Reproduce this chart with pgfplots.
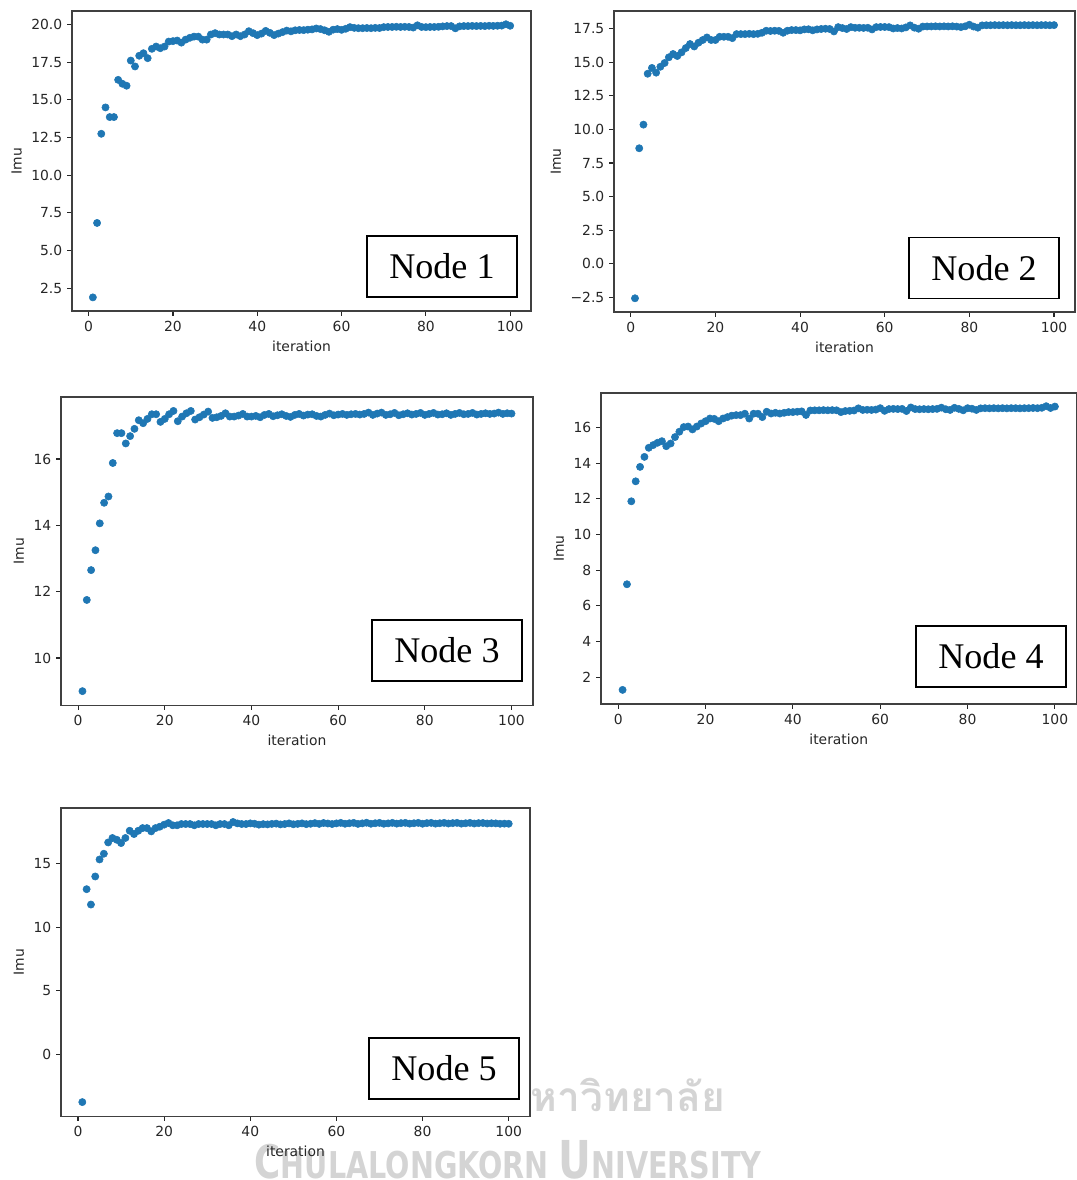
\documentclass[border=0pt]{standalone}
\usepackage{fontspec}
\setmainfont{DejaVu Sans}
\newfontfamily\timesf{Liberation Serif}
\newfontfamily\thaif[Script=Thai]{Loma}
\usepackage{pgfplots}
\usepackage{pgfplotstable}
\pgfplotsset{compat=1.18}
\definecolor{mplblue}{HTML}{1F77B4}
\definecolor{wm}{HTML}{D4D4D4}

\pgfplotstableread{
it n1 n2 n3 n4 n5
1 1.89 -2.57 9.00 1.29 -3.76
2 6.83 8.60 11.75 7.21 13.00
3 12.75 10.36 12.65 11.86 11.79
4 14.50 14.15 13.25 12.98 14.00
5 13.86 14.58 14.06 13.79 15.34
6 13.86 14.23 14.68 14.35 15.79
7 16.33 14.67 14.87 14.86 16.68
8 16.07 14.95 15.88 15.01 17.03
9 15.94 15.37 16.78 15.14 16.89
10 17.61 15.62 16.78 15.23 16.63
11 17.22 15.47 16.47 14.95 17.03
12 17.93 15.74 16.69 15.10 17.60
13 18.10 16.06 16.91 15.46 17.34
14 17.77 16.36 17.17 15.76 17.60
15 18.39 16.18 17.08 16.02 17.81
16 18.54 16.46 17.21 16.05 17.81
17 18.43 16.66 17.35 15.89 17.55
18 18.54 16.85 17.35 16.05 17.81
19 18.87 16.66 17.12 16.22 17.92
20 18.90 16.66 17.21 16.35 18.08
21 18.94 16.90 17.35 16.50 18.21
22 18.80 16.90 17.45 16.48 18.03
23 19.00 16.90 17.14 16.35 18.03
24 19.12 16.80 17.28 16.50 18.13
25 19.20 17.10 17.38 16.58 18.13
26 19.20 17.10 17.45 16.66 18.13
27 19.00 17.10 17.19 16.69 18.03
28 19.00 17.12 17.26 16.69 18.13
29 19.34 17.10 17.34 16.77 18.13
30 19.43 17.12 17.43 16.50 18.13
31 19.34 17.20 17.24 16.77 18.13
32 19.34 17.35 17.26 16.77 18.03
33 19.34 17.33 17.30 16.58 18.13
34 19.23 17.35 17.38 16.88 18.13
35 19.34 17.34 17.28 16.78 18.03
36 19.23 17.20 17.28 16.82 18.29
37 19.34 17.35 17.31 16.78 18.18
38 19.56 17.40 17.36 16.82 18.13
39 19.43 17.40 17.28 16.86 18.13
40 19.30 17.38 17.28 16.86 18.18
41 19.40 17.45 17.30 16.88 18.15
42 19.58 17.46 17.26 16.90 18.08
43 19.45 17.38 17.33 16.70 18.12
44 19.30 17.45 17.36 16.95 18.10
45 19.40 17.48 17.29 16.96 18.14
46 19.50 17.50 17.32 16.96 18.16
47 19.60 17.48 17.35 16.97 18.10
48 19.55 17.30 17.30 16.96 18.13
49 19.62 17.62 17.27 16.97 18.18
50 19.64 17.55 17.33 16.96 18.11
51 19.63 17.48 17.36 16.86 18.14
52 19.66 17.62 17.31 16.92 18.18
53 19.68 17.57 17.34 16.93 18.12
54 19.74 17.57 17.35 16.95 18.15
55 19.70 17.56 17.30 17.07 18.20
56 19.62 17.57 17.28 16.98 18.14
57 19.52 17.45 17.33 16.99 18.21
58 19.66 17.62 17.37 16.98 18.17
59 19.70 17.63 17.32 17.00 18.13
60 19.65 17.63 17.34 17.08 18.18
61 19.72 17.62 17.36 16.93 18.22
62 19.83 17.52 17.33 17.03 18.15
63 19.78 17.55 17.35 17.04 18.19
64 19.76 17.52 17.36 17.03 18.22
65 19.76 17.60 17.34 17.04 18.14
66 19.77 17.75 17.36 16.92 18.18
67 19.76 17.58 17.40 17.12 18.23
68 19.78 17.50 17.33 17.03 18.15
69 19.77 17.66 17.37 17.02 18.19
70 19.83 17.67 17.40 17.03 18.22
71 19.84 17.67 17.33 17.02 18.15
72 19.84 17.68 17.35 17.03 18.18
73 19.85 17.67 17.39 17.04 18.22
74 19.84 17.68 17.32 17.11 18.16
75 19.85 17.67 17.35 17.02 18.20
76 19.84 17.68 17.38 16.98 18.22
77 19.80 17.66 17.34 17.10 18.16
78 19.95 17.62 17.36 17.04 18.19
79 19.84 17.68 17.39 16.96 18.22
80 19.83 17.80 17.33 17.08 18.15
81 19.84 17.66 17.36 17.05 18.20
82 19.84 17.58 17.39 16.98 18.22
83 19.85 17.75 17.34 17.07 18.16
84 19.88 17.76 17.35 17.08 18.19
85 19.90 17.76 17.38 17.07 18.22
86 19.90 17.77 17.33 17.08 18.17
87 19.75 17.76 17.36 17.07 18.20
88 19.88 17.77 17.39 17.08 18.22
89 19.90 17.76 17.35 17.07 18.16
90 19.90 17.77 17.36 17.08 18.19
91 19.91 17.76 17.39 17.08 18.22
92 19.90 17.76 17.34 17.07 18.17
93 19.91 17.77 17.36 17.08 18.20
94 19.90 17.76 17.38 17.08 18.21
95 19.92 17.77 17.36 17.09 18.17
96 19.91 17.76 17.37 17.08 18.19
97 19.92 17.77 17.40 17.10 18.18
98 19.93 17.77 17.36 17.19 18.15
99 20.02 17.76 17.38 17.09 18.16
100 19.92 17.77 17.37 17.17 18.15
}\data

\pgfplotsset{
  panel/.style={
    scale only axis,
    anchor=north west,
    xmin=-3.95, xmax=104.95,
    xtick={0,20,40,60,80,100},
    tick pos=left,
    tick align=outside,
    major tick length=3.5pt,
    tick style={black!85, line width=0.8pt},
    axis line style={black!75, line width=0.8pt},
    axis background/.style={fill=white},
    every tick label/.append style={font=\fontsize{10}{12}\selectfont, text=black!85},
    label style={font=\fontsize{10}{12}\selectfont, text=black!85},
    xlabel={iteration}, ylabel={Imu},
    /pgf/number format/assume math mode=true,
  },
  pts/.style={color=mplblue, only marks, mark=*, mark size=2.6pt,
    mark options={solid, draw=mplblue, fill=mplblue}},
}

\begin{document}
\begin{tikzpicture}
\path[use as bounding box] (0,0) rectangle (775.44pt,-849.6pt);
% faded watermark text
\node[text=wm, inner sep=0pt] at (365.8pt,-835.2pt)
  {\resizebox{365pt}{27.4pt}{\bfseries C\fontsize{8}{8}\selectfont HULALONGKORN \fontsize{11.3}{11}\selectfont U\fontsize{8}{8}\selectfont NIVERSITY}};
\node[text=wm, inner sep=0pt, anchor=west] at (382pt,-788pt)
  {\resizebox{140pt}{!}{\thaif\bfseries หาวิทยาลัย}};

% Panel 1
\begin{axis}[panel, at={(51.84pt,-7.92pt)}, width=330.5pt, height=216pt,
  ymin=0.985, ymax=20.9,
  ytick={2.5,5,7.5,10,12.5,15,17.5,20},
  yticklabels={2.5,5.0,7.5,10.0,12.5,15.0,17.5,20.0}]
\addplot[pts] table[x=it, y=n1]{\data};
\end{axis}
% Panel 2
\begin{axis}[panel, at={(442.1pt,-7.92pt)}, width=331.9pt, height=216.7pt,
  ymin=-3.59, ymax=18.82,
  ytick={-2.5,0,2.5,5,7.5,10,12.5,15,17.5},
  yticklabels={−2.5,0.0,2.5,5.0,7.5,10.0,12.5,15.0,17.5}]
\addplot[pts] table[x=it, y=n2]{\data};
\end{axis}
% Panel 3
\begin{axis}[panel, at={(43.92pt,-285.84pt)}, width=339.8pt, height=221.8pt,
  ymin=8.58, ymax=17.87,
  ytick={10,12,14,16}]
\addplot[pts] table[x=it, y=n3]{\data};
\end{axis}
% Panel 4
\begin{axis}[panel, at={(432.7pt,-282.96pt)}, width=342.4pt, height=223.9pt,
  ymin=0.50, ymax=17.93,
  ytick={2,4,6,8,10,12,14,16}]
\addplot[pts] table[x=it, y=n4]{\data};
\end{axis}
% Panel 5
\begin{axis}[panel, at={(43.92pt,-581.76pt)}, width=337.7pt, height=221.8pt,
  ymin=-4.86, ymax=19.39,
  ytick={0,5,10,15}]
\addplot[pts] table[x=it, y=n5]{\data};
\end{axis}

\tikzset{nodebox/.style={draw=black, line width=0.9pt, fill=white, minimum width=108pt, minimum height=43.9pt, inner sep=0pt, font=\timesf\fontsize{26}{30}\selectfont}}
\node[nodebox] at (318.2pt,-191.9pt) {Node 1};
\node[nodebox] at (708.5pt,-193.0pt) {Node 2};
\node[nodebox] at (321.8pt,-468.4pt) {Node 3};
\node[nodebox] at (713.5pt,-472.7pt) {Node 4};
\node[nodebox] at (319.7pt,-769.3pt) {Node 5};
\end{tikzpicture}
\end{document}
